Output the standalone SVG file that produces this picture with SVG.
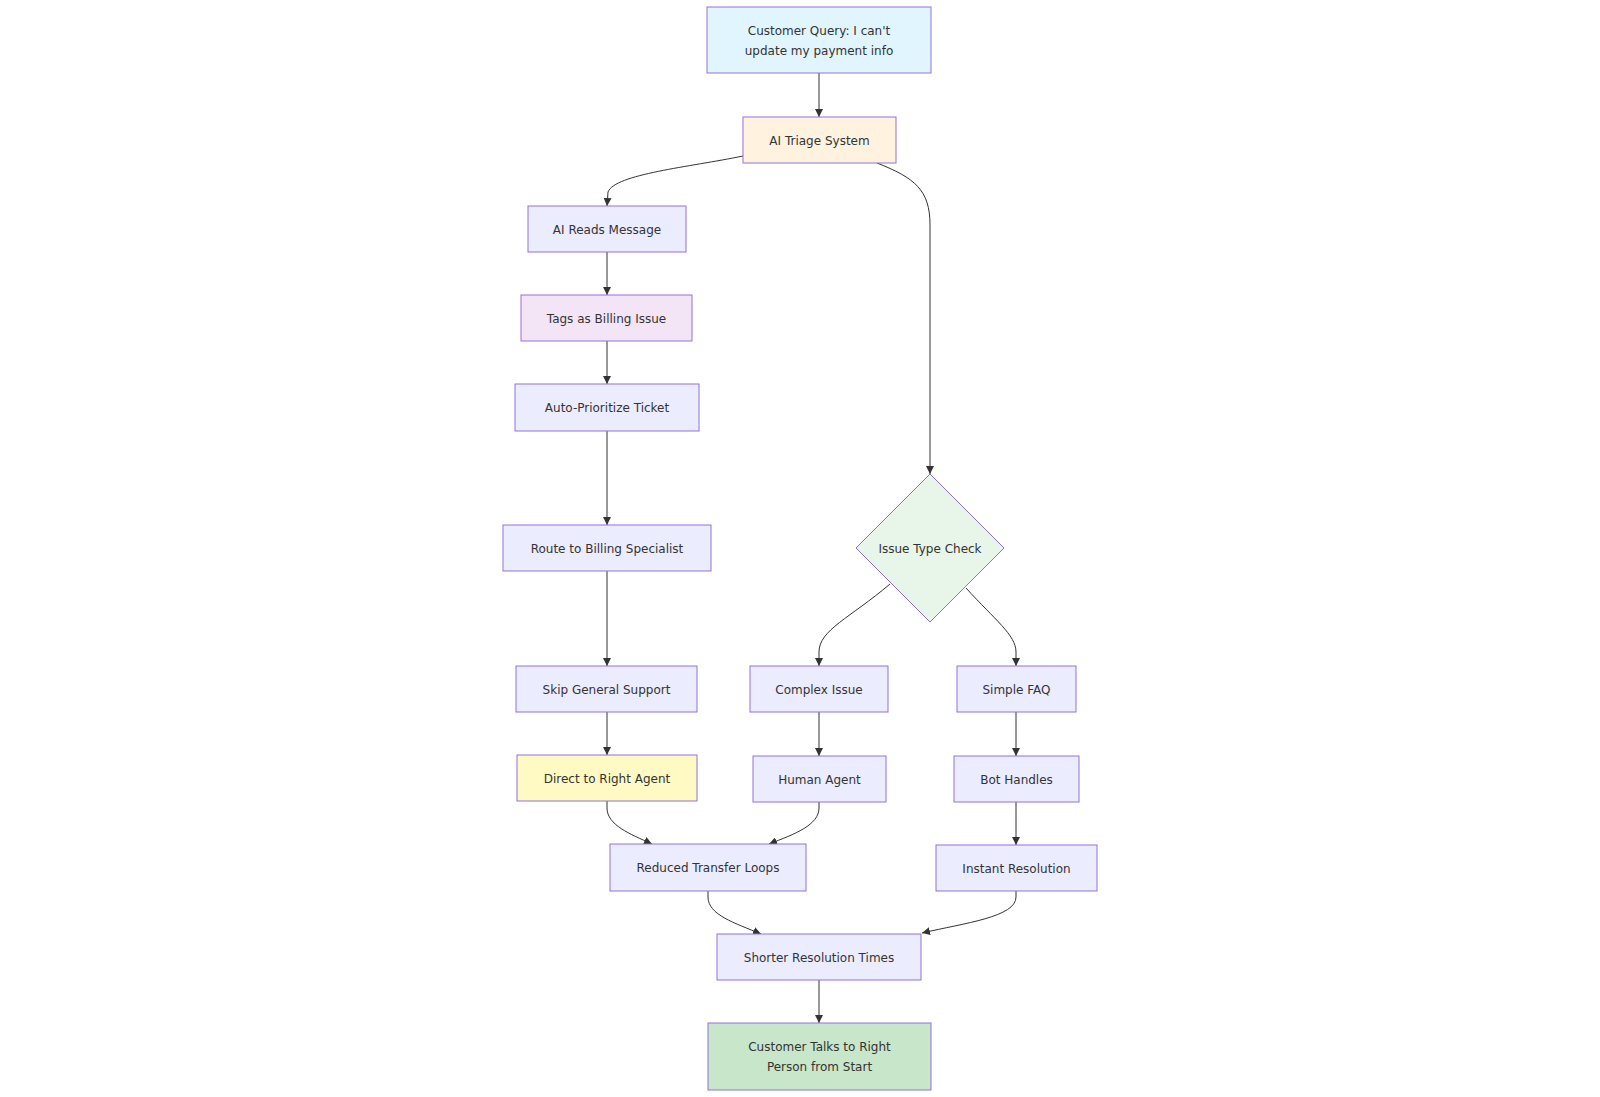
<svg xmlns="http://www.w3.org/2000/svg" width="1600" height="1097" viewBox="0 0 1600 1097">
<style>
  .node rect, .node polygon { fill: #ECECFF; stroke: #9370DB; stroke-width: 1; }
  .node text { font-family: "DejaVu Sans", Verdana, sans-serif; font-size: 12px; fill: #333; text-anchor: middle; }
  .edges path { fill: none; stroke: #333333; stroke-width: 1; }
</style>
<defs>
  <marker id="arrow" viewBox="0 0 10 10" refX="10" refY="5" markerWidth="8" markerHeight="8" markerUnits="userSpaceOnUse" orient="auto">
    <path d="M0,0 L10,5 L0,10 z" fill="#333333"/>
  </marker>
</defs>
<rect width="1600" height="1097" fill="#ffffff"/>
<g class="edges">
  <path d="M819,73 L819,117" marker-end="url(#arrow)"/>
  <path d="M743,156 C690,167 615,174 608,192 L607,206" marker-end="url(#arrow)"/>
  <path d="M877,163 C915,178 930,190 930,225 L930,474" marker-end="url(#arrow)"/>
  <path d="M607,252 L607,295" marker-end="url(#arrow)"/>
  <path d="M607,341 L607,384" marker-end="url(#arrow)"/>
  <path d="M607,431 L607,525" marker-end="url(#arrow)"/>
  <path d="M607,571 L607,666" marker-end="url(#arrow)"/>
  <path d="M607,712 L607,755" marker-end="url(#arrow)"/>
  <path d="M890,584 C850,618 819,630 819,652 L819,666" marker-end="url(#arrow)"/>
  <path d="M966,588 C995,620 1016,635 1016,652 L1016,666" marker-end="url(#arrow)"/>
  <path d="M819,712 L819,756" marker-end="url(#arrow)"/>
  <path d="M1016,712 L1016,756" marker-end="url(#arrow)"/>
  <path d="M1016,802 L1016,845" marker-end="url(#arrow)"/>
  <path d="M607,801 L607,808 C607,825 630,834 652,844" marker-end="url(#arrow)"/>
  <path d="M819,802 L819,808 C819,825 795,834 769,844" marker-end="url(#arrow)"/>
  <path d="M708,891 L708,897 C708,915 735,923 761,934" marker-end="url(#arrow)"/>
  <path d="M1016,891 L1016,897 C1016,917 965,923 922,933" marker-end="url(#arrow)"/>
  <path d="M819,980 L819,1023" marker-end="url(#arrow)"/>
</g>
<g class="node" id="customer-query">
  <rect x="707" y="7" width="224" height="66" style="fill:#e1f5fe"/>
  <text x="819" y="34.5">Customer Query: I can't</text>
  <text x="819" y="54.5">update my payment info</text>
</g>
<g class="node" id="ai-triage">
  <rect x="743" y="117" width="153" height="46" style="fill:#fff3e0"/>
  <text x="819.5" y="144.5">AI Triage System</text>
</g>
<g class="node" id="ai-reads">
  <rect x="528" y="206" width="158" height="46"/>
  <text x="607" y="233.5">AI Reads Message</text>
</g>
<g class="node" id="tags-billing">
  <rect x="521" y="295" width="171" height="46" style="fill:#f3e5f5"/>
  <text x="606.5" y="322.5">Tags as Billing Issue</text>
</g>
<g class="node" id="auto-prioritize">
  <rect x="515" y="384" width="184" height="47"/>
  <text x="607" y="411.5">Auto-Prioritize Ticket</text>
</g>
<g class="node" id="route-billing">
  <rect x="503" y="525" width="208" height="46"/>
  <text x="607" y="552.5">Route to Billing Specialist</text>
</g>
<g class="node" id="skip-general">
  <rect x="516" y="666" width="181" height="46"/>
  <text x="606.5" y="693.5">Skip General Support</text>
</g>
<g class="node" id="direct-agent">
  <rect x="517" y="755" width="180" height="46" style="fill:#fff9c4"/>
  <text x="607" y="782.5">Direct to Right Agent</text>
</g>
<g class="node" id="issue-type">
  <polygon points="930,474 1004,548 930,622 856,548" style="fill:#e8f5e9"/>
  <text x="930" y="552.5">Issue Type Check</text>
</g>
<g class="node" id="complex-issue">
  <rect x="750" y="666" width="138" height="46"/>
  <text x="819" y="693.5">Complex Issue</text>
</g>
<g class="node" id="simple-faq">
  <rect x="957" y="666" width="119" height="46"/>
  <text x="1016.5" y="693.5">Simple FAQ</text>
</g>
<g class="node" id="human-agent">
  <rect x="753" y="756" width="133" height="46"/>
  <text x="819.5" y="783.5">Human Agent</text>
</g>
<g class="node" id="bot-handles">
  <rect x="954" y="756" width="125" height="46"/>
  <text x="1016.5" y="783.5">Bot Handles</text>
</g>
<g class="node" id="reduced-transfer">
  <rect x="610" y="844" width="196" height="47"/>
  <text x="708" y="871.5">Reduced Transfer Loops</text>
</g>
<g class="node" id="instant-resolution">
  <rect x="936" y="845" width="161" height="46"/>
  <text x="1016.5" y="872.5">Instant Resolution</text>
</g>
<g class="node" id="shorter-resolution">
  <rect x="717" y="934" width="204" height="46"/>
  <text x="819" y="961.5">Shorter Resolution Times</text>
</g>
<g class="node" id="customer-talks">
  <rect x="708" y="1023" width="223" height="67" style="fill:#c8e6c9"/>
  <text x="819.5" y="1051">Customer Talks to Right</text>
  <text x="819.5" y="1071">Person from Start</text>
</g>
</svg>
